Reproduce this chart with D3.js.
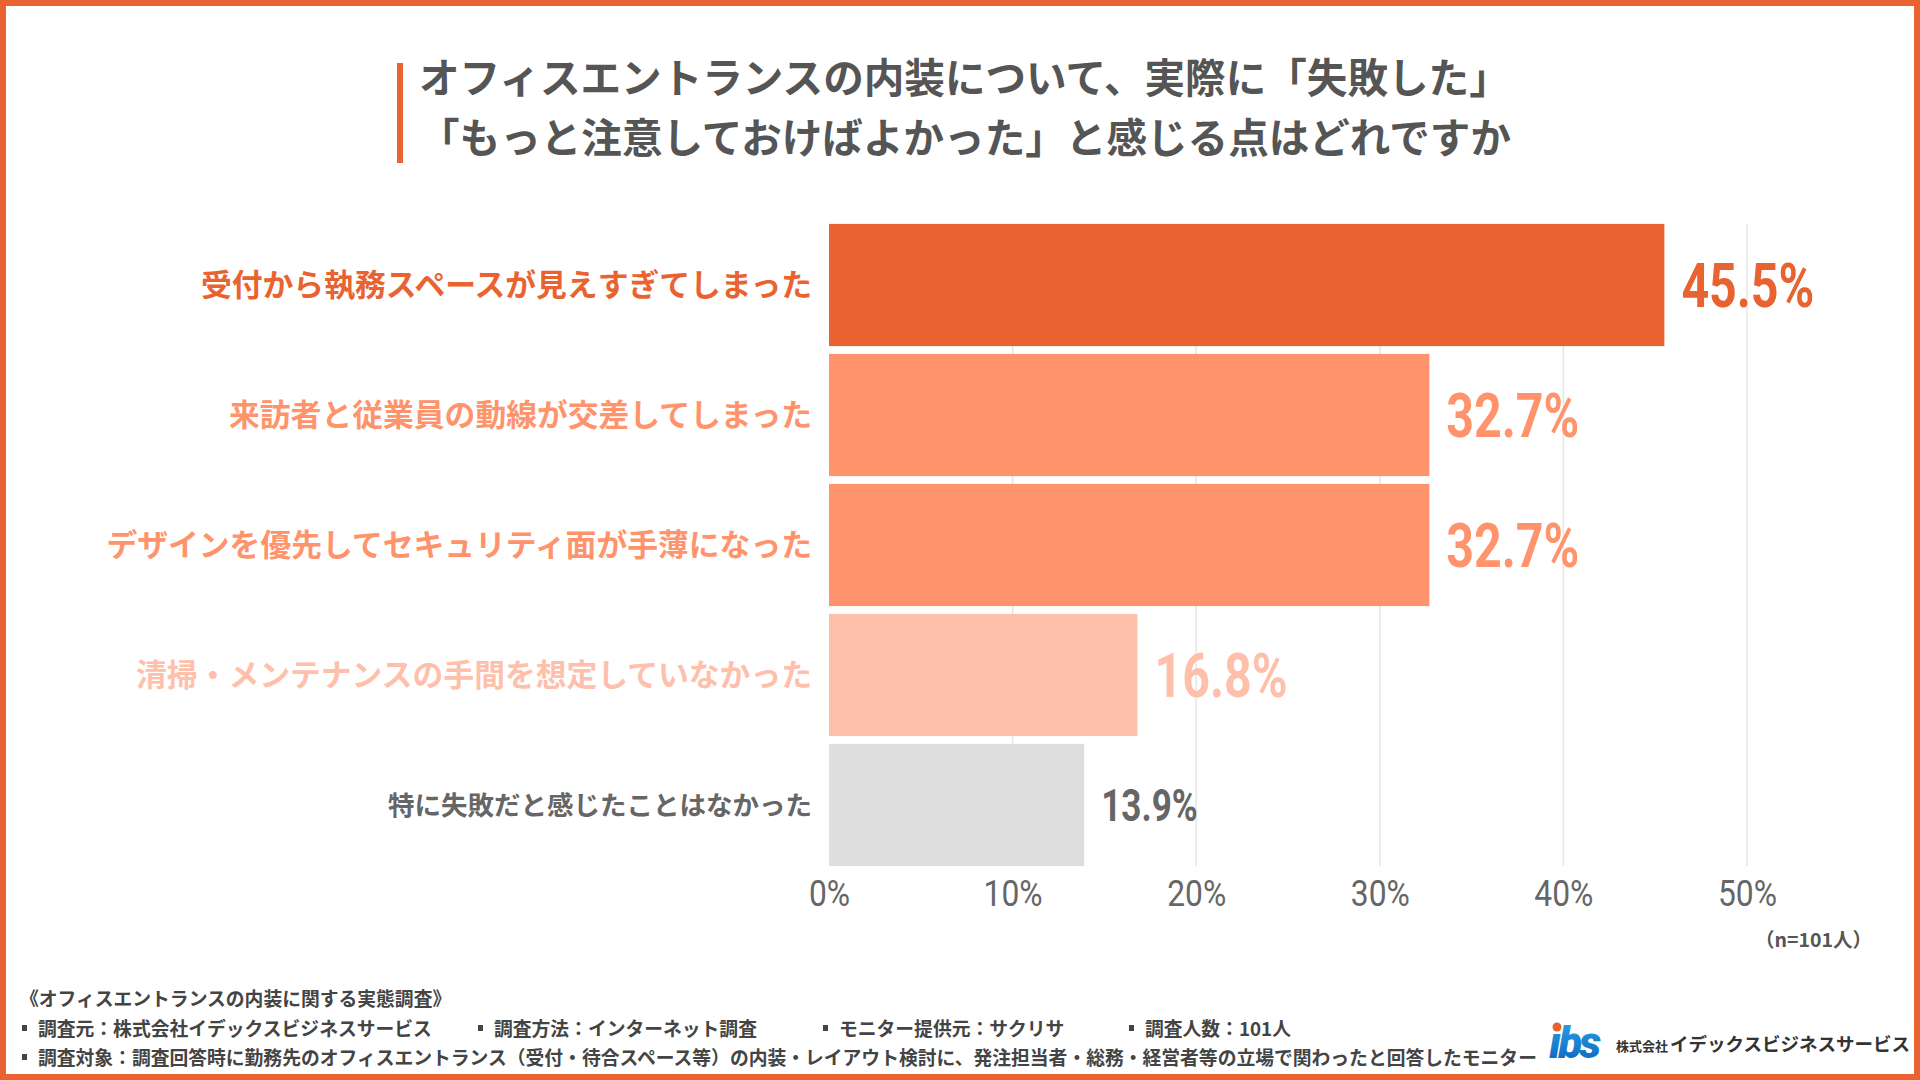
<!DOCTYPE html>
<html><head><meta charset="utf-8">
<script src="https://cdn.jsdelivr.net/npm/d3@7"></script>
<style>
html,body{margin:0;padding:0;background:#fff;}
svg{display:block;}
</style></head>
<body>
<svg id="chart" width="1920" height="1080"></svg>
<script>
const categories = [
  "受付から執務スペースが見えすぎてしまった",
  "来訪者と従業員の動線が交差してしまった",
  "デザインを優先してセキュリティ面が手薄になった",
  "清掃・メンテナンスの手間を想定していなかった",
  "特に失敗だと感じたことはなかった"
];
const values = [45.5, 32.7, 32.7, 16.8, 13.9];
const tickValues = [0, 10, 20, 30, 40, 50];
const titleLines = [
  "オフィスエントランスの内装について、実際に「失敗した」",
  "「もっと注意しておけばよかった」と感じる点はどれですか"
];
const footerTitle = "《オフィスエントランスの内装に関する実態調査》";
const footerItems = [
  "調査元：株式会社イデックスビジネスサービス",
  "調査方法：インターネット調査",
  "モニター提供元：サクリサ",
  "調査人数：101人"
];
const footerTarget = "調査対象：調査回答時に勤務先のオフィスエントランス（受付・待合スペース等）の内装・レイアウト検討に、発注担当者・総務・経営者等の立場で関わったと回答したモニター";
const sampleNote = "（n=101人）";
const companyPrefix = "株式会社";
const companyName = "イデックスビジネスサービス";

// styles
const barColors = ["#E8632F", "#FF936B", "#FF936B", "#FFC0AB", "#DEDEDE"];
const textColors = ["#E8632F", "#FF936B", "#FF936B", "#FFC0AB", "#666666"];
const valueFontSizes = [62, 62, 62, 62, 45];
const labelFontSizes = [30.8, 30.8, 30.8, 30.8, 26.5];

const JP = "'Noto Sans CJK JP', 'Noto Sans', sans-serif";
const NUM = "Roboto, 'Noto Sans', sans-serif";

const svg = d3.select("#chart");
const W = 1920, H = 1080;

// background and border
svg.append("rect").attr("x", 3).attr("y", 3).attr("width", W - 6).attr("height", H - 6)
  .attr("fill", "#fff").attr("stroke", "#E8632F").attr("stroke-width", 6);

// title
svg.append("rect").attr("x", 397).attr("y", 63).attr("width", 6).attr("height", 100).attr("fill", "#E8632F");
svg.append("g").selectAll("text").data(titleLines).join("text")
  .attr("x", 419).attr("y", (d, i) => 78 + i * 60).attr("dy", "0.36em")
  .attr("font-family", JP).attr("font-weight", 700).attr("font-size", 40.6)
  .attr("fill", "#555555").text(d => d);

// scales
const x = d3.scaleLinear().domain([0, 50]).range([829, 1747]);
const y = d3.scaleBand().domain(categories).range([220, 870]).paddingInner(0.06).paddingOuter(0.03);

// grid lines
svg.append("g").selectAll("line").data(tickValues.slice(1)).join("line")
  .attr("x1", d => x(d)).attr("x2", d => x(d))
  .attr("y1", y.range()[0] + 4).attr("y2", y.range()[1] - 4)
  .attr("stroke", "#E6E6E6").attr("stroke-width", 1.5);

// bars
svg.append("g").selectAll("rect").data(values).join("rect")
  .attr("x", x(0)).attr("y", (d, i) => y(categories[i]))
  .attr("width", d => x(d) - x(0)).attr("height", y.bandwidth())
  .attr("fill", (d, i) => barColors[i]);

// category labels
svg.append("g").selectAll("text").data(categories).join("text")
  .attr("x", 812).attr("y", d => y(d) + y.bandwidth() / 2).attr("dy", "0.36em")
  .attr("text-anchor", "end")
  .attr("font-family", JP).attr("font-weight", 700).attr("font-size", (d, i) => labelFontSizes[i])
  .attr("fill", (d, i) => textColors[i]).text(d => d);

// value labels
svg.append("g").selectAll("text").data(values).join("text")
  .attr("transform", (d, i) => `translate(${x(d) + 17},${y(categories[i]) + y.bandwidth() / 2 + valueFontSizes[i] * 0.35}) scale(0.78,1)`)
  .attr("font-family", NUM).attr("font-weight", 700).attr("font-size", (d, i) => valueFontSizes[i])
  .attr("fill", (d, i) => textColors[i]).text(d => d.toFixed(1) + "%");

// x axis tick labels
const axis = d3.axisBottom(x).tickValues(tickValues).tickFormat(d => d + "%").tickSize(0).tickPadding(0);
const ax = svg.append("g").attr("transform", "translate(0,906)").call(axis);
ax.select(".domain").remove();
ax.selectAll("text")
  .attr("dy", 0).attr("y", 0).attr("x", 0)
  .attr("font-family", NUM).attr("font-weight", 400).attr("font-size", 37)
  .attr("fill", "#666666")
  .attr("transform", "scale(0.86,1)");

// sample note
svg.append("text").attr("x", 1872).attr("y", 940).attr("dy", "0.36em").attr("text-anchor", "end")
  .attr("font-family", JP).attr("font-weight", 700).attr("font-size", 19.5).attr("fill", "#555555")
  .text(sampleNote);

// footer
const foot = svg.append("g").attr("font-family", JP).attr("font-weight", 700).attr("font-size", 18.8).attr("fill", "#444444");
foot.append("text").attr("x", 20).attr("y", 999).attr("dy", "0.36em").text(footerTitle);
const itemX = [22, 478, 823, 1129];
footerItems.forEach((t, i) => {
  foot.append("rect").attr("x", itemX[i]).attr("y", 1025).attr("width", 5).attr("height", 6).attr("fill", "#444");
  foot.append("text").attr("x", itemX[i] + 16).attr("y", 1029).attr("dy", "0.36em").text(t);
});
foot.append("rect").attr("x", 22).attr("y", 1054).attr("width", 5).attr("height", 6).attr("fill", "#444");
foot.append("text").attr("x", 38).attr("y", 1058).attr("dy", "0.36em").text(footerTarget);

// logo
const defs = svg.append("defs");
const grad = defs.append("linearGradient").attr("id", "lg").attr("x1", 0).attr("y1", 0).attr("x2", 0).attr("y2", 1);
grad.append("stop").attr("offset", "0%").attr("stop-color", "#2aa6e8");
grad.append("stop").attr("offset", "100%").attr("stop-color", "#0b5fb8");
svg.append("text").attr("x", 1549).attr("y", 1058)
  .attr("font-family", NUM).attr("font-weight", 900).attr("font-style", "italic").attr("font-size", 44)
  .attr("letter-spacing", -3)
  .attr("fill", "url(#lg)").text("ıbs");
svg.append("circle").attr("cx", 1557).attr("cy", 1027).attr("r", 4.5).attr("fill", "#E8632F");
svg.append("text").attr("x", 1616).attr("y", 1045).attr("dy", "0.36em")
  .attr("font-family", JP).attr("font-weight", 700).attr("fill", "#333333")
  .call(t => {
    t.append("tspan").attr("font-size", 13).text(companyPrefix);
    t.append("tspan").attr("font-size", 18.5).attr("dx", 2).text(companyName);
  });
</script>
</body></html>
